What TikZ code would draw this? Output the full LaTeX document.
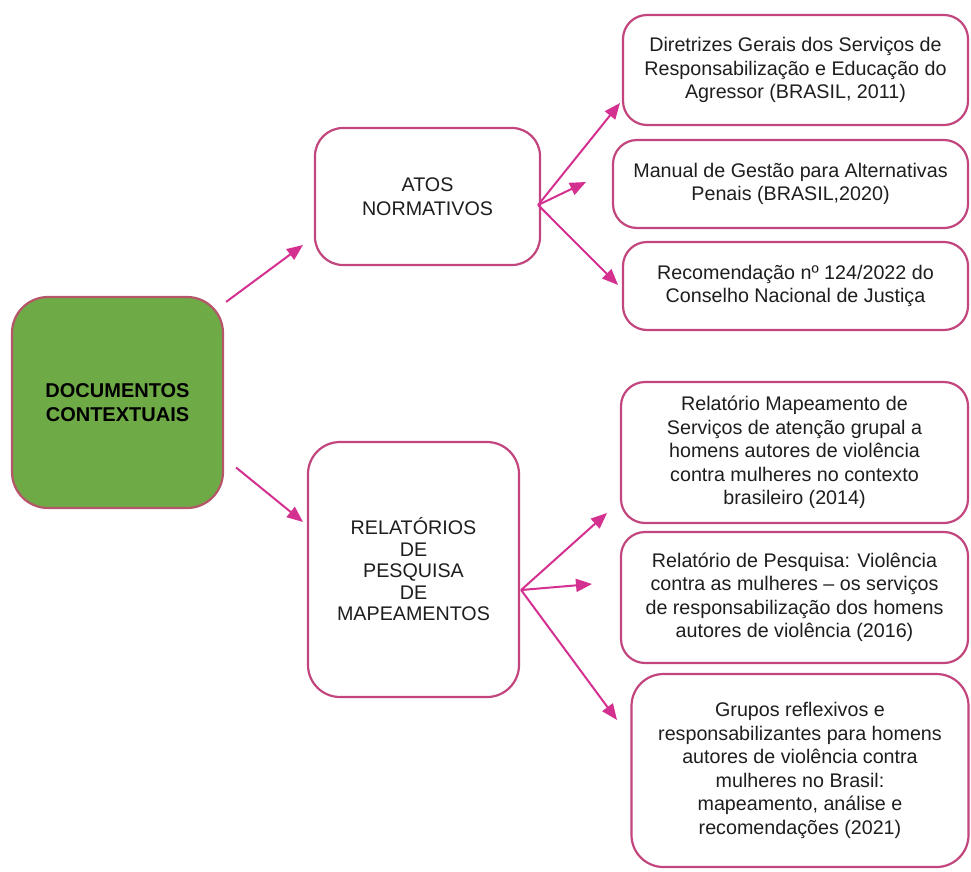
\documentclass[tikz,border=0pt]{standalone}
\usepackage{fontspec}
\setmainfont{Liberation Sans}
\usetikzlibrary{arrows.meta,calc}
\definecolor{bord}{HTML}{C2457E}
\definecolor{arr}{HTML}{D4308F}
\definecolor{gfill}{HTML}{6EAA46}
\definecolor{gbord}{HTML}{B5566A}
\definecolor{txt}{HTML}{1E1E1E}
\tikzset{
  box/.style={draw=bord, line width=2.2pt, rounded corners=24pt, fill=white,
    align=center, text=txt, font=\fontsize{19.7}{23.5}\selectfont, inner sep=0pt},
  mainbox/.style={draw=gbord, line width=2.2pt, rounded corners=36pt, fill=gfill,
    align=center, text=black, font=\fontsize{20}{23.5}\selectfont\bfseries, inner sep=0pt},
  conn/.style={draw=arr, line width=2pt, -{Triangle[length=16pt,width=13pt]}},
}
\begin{document}
\begin{tikzpicture}[x=1pt,y=-1pt]
\useasboundingbox (0,0) rectangle (971,871);
\node[mainbox, minimum width=211, minimum height=211] (green) at (117.5,402.5) {DOCUMENTOS\\CONTEXTUAIS};
\node[box, rounded corners=28pt, minimum width=225, minimum height=137] (atos) at (427.5,196.5) {ATOS\\NORMATIVOS};
\node[box, rounded corners=32pt, minimum width=211, minimum height=255, font=\fontsize{19.7}{21.5}\selectfont] (rel) at (413.5,569.5) {RELATÓRIOS\\DE\\PESQUISA\\DE\\MAPEAMENTOS};
\node[box, minimum width=345, minimum height=110] (b1) at (795.5,70) {Diretrizes Gerais dos Serviços de\\Responsabilização e Educação do\\Agressor (BRASIL, 2011)};
\node[box, minimum width=355, minimum height=88] (b2) at (790.5,184) {Manual de Gestão para Alternativas\\Penais (BRASIL,2020)};
\node[box, minimum width=345, minimum height=88] (b3) at (795.5,286) {Recomendação nº 124/2022 do\\Conselho Nacional de Justiça};
\node[box, minimum width=347, minimum height=141] (b4) at (794.5,452.5) {Relatório Mapeamento de\\Serviços de atenção grupal a\\homens autores de violência\\contra mulheres no contexto\\brasileiro (2014)};
\node[box, minimum width=347, minimum height=131] (b5) at (794.5,597.5) {Relatório de Pesquisa: Violência\\contra as mulheres – os serviços\\de responsabilização dos homens\\autores de violência (2016)};
\node[box, rounded corners=32pt, minimum width=337, minimum height=193] (b6) at (800,770.5) {Grupos reflexivos e\\responsabilizantes para homens\\autores de violência contra\\mulheres no Brasil:\\mapeamento, análise e\\recomendações (2021)};
% connector end points
\coordinate (sA) at ($(green.north east)+(2,6)$);
\coordinate (sR) at ($(green.east)+(12,65)$);
\coordinate (tA) at (303,245);
\coordinate (tR) at (303,522);
\coordinate (oA) at ($(atos.east)+(-3,8.5)$);
\coordinate (oR) at ($(rel.east)+(1,20.5)$);
\coordinate (t1) at (620,103);
\coordinate (t2) at (586,182);
\coordinate (t3) at (618,285);
\coordinate (t4) at (607,513);
\coordinate (t5) at (592,584);
\coordinate (t6) at (617,720);
\draw[conn] (sA) -- (tA);
\draw[conn] (sR) -- (tR);
\draw[conn] (oA) -- (t1);
\draw[conn] (oA) -- (t2);
\draw[conn] (oA) -- (t3);
\draw[conn] (oR) -- (t4);
\draw[conn] (oR) -- (t5);
\draw[conn] (oR) -- (t6);
\end{tikzpicture}
\end{document}
